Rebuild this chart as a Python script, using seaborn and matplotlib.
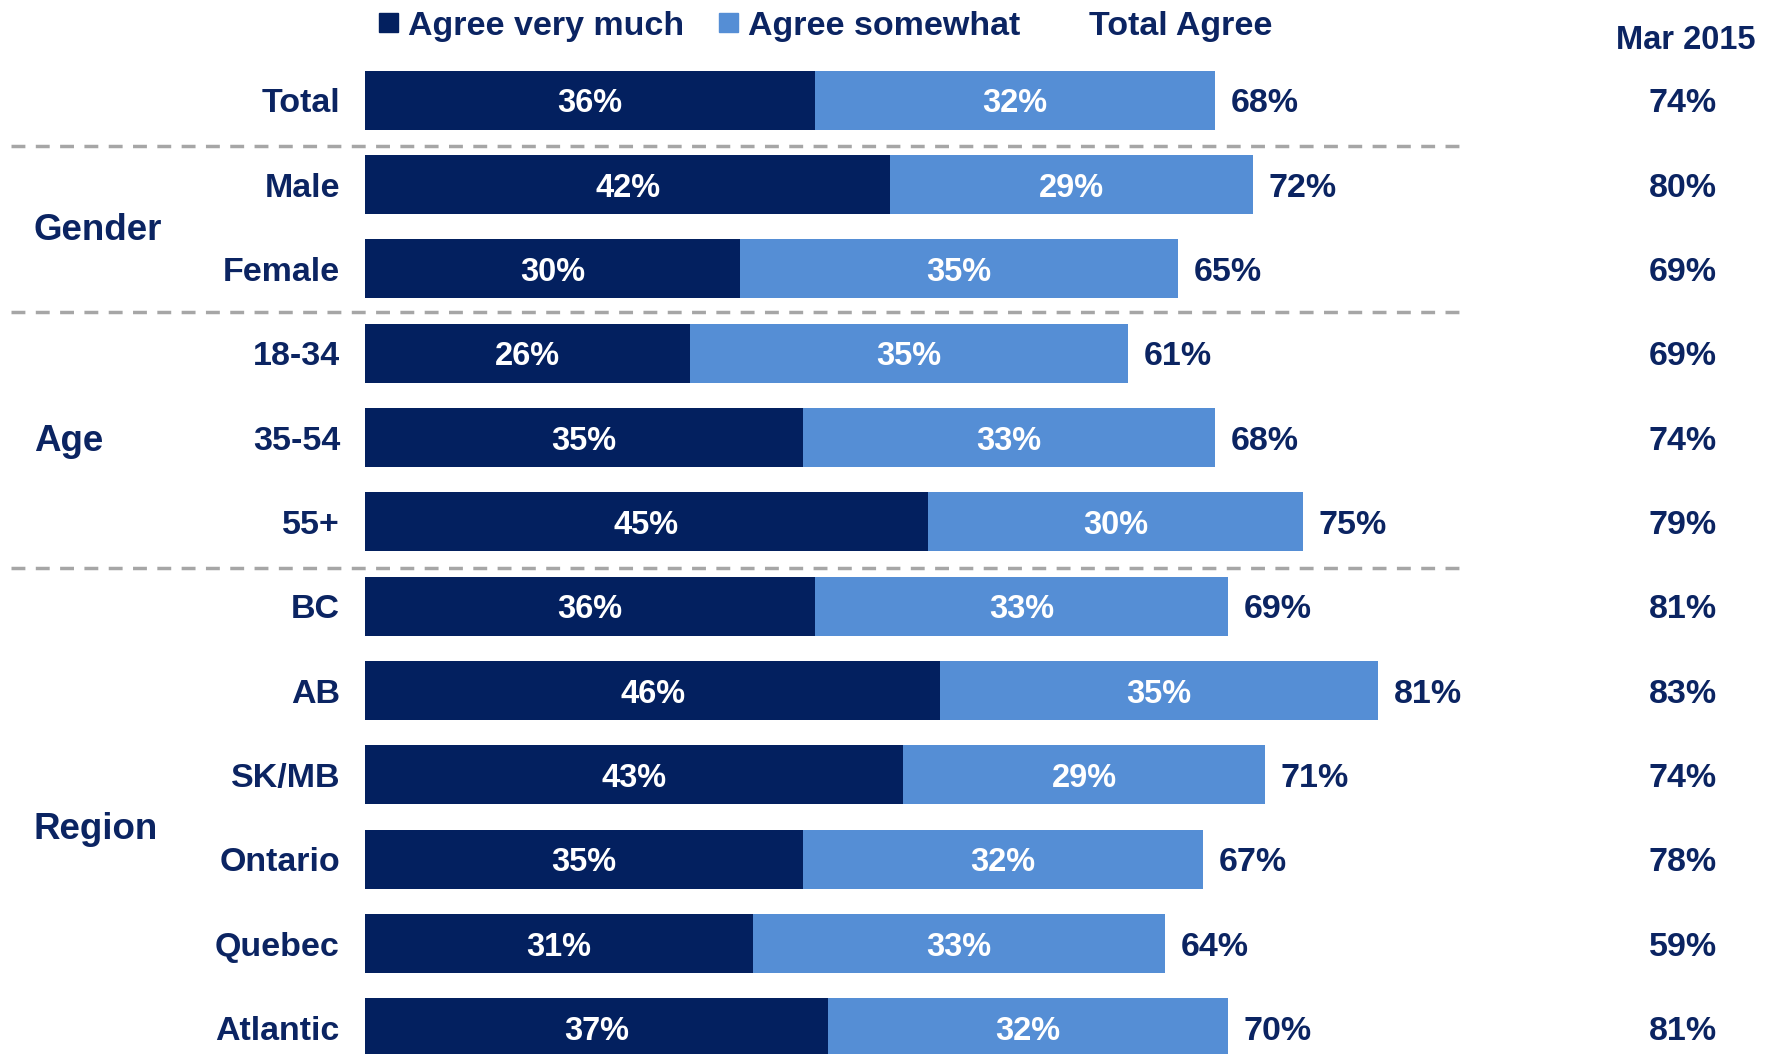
import matplotlib
matplotlib.use('Agg')
import matplotlib.pyplot as plt
import seaborn as sns
import pandas as pd
from matplotlib.patches import Rectangle

# 数据
categories = ['Total', 'Male', 'Female', '18-34', '35-54', '55+',
              'BC', 'AB', 'SK/MB', 'Ontario', 'Quebec', 'Atlantic']
agree_very = [36, 42, 30, 26, 35, 45, 36, 46, 43, 35, 31, 37]
agree_some = [32, 29, 35, 35, 33, 30, 33, 35, 29, 32, 33, 32]
total_agree = [68, 72, 65, 61, 68, 75, 69, 81, 71, 67, 64, 70]
mar_2015 = [74, 80, 69, 69, 74, 79, 81, 83, 74, 78, 59, 81]
groups = [('Gender', 1.5), ('Age', 4.0), ('Region', 8.6)]
separators = [0.54, 2.51, 5.55]

DARK = '#03205F'
LIGHT = '#558ED5'
NAVY = '#0B2462'

sns.set_theme(style='white')
plt.rcParams['font.family'] = ['Liberation Sans', 'DejaVu Sans']
plt.rcParams['font.weight'] = 'bold'
FS = 24.5
VA = 'center_baseline'

df = pd.DataFrame({'cat': categories, 'very': agree_very, 'some': agree_some})
df['stack'] = df['very'] + df['some']

fig = plt.figure(figsize=(17.73, 10.54), dpi=100)
ax = fig.add_axes([365 / 1773, 0, 1 - 365 / 1773, 1])

# 先画总长度（浅色），再叠加深色部分
sns.barplot(data=df, x='stack', y='cat', color=LIGHT, width=0.7,
            linewidth=0, saturation=1, ax=ax)
sns.barplot(data=df, x='very', y='cat', color=DARK, width=0.7,
            linewidth=0, saturation=1, ax=ax)

ax.set_xlim(0, 112.6)
ax.set_ylim(11.31, -1.19)
ax.axis('off')

for i, row in df.iterrows():
    ax.text(row['very'] / 2, i, f"{row['very']}%", ha='center', va=VA,
            color='white', fontsize=FS - 1)
    ax.text(row['very'] + row['some'] / 2, i, f"{row['some']}%", ha='center', va=VA,
            color='white', fontsize=FS - 1)
    ax.text(row['stack'] + 1.25, i, f'{total_agree[i]}%', ha='left', va=VA,
            color=NAVY, fontsize=FS)
    ax.text(-2.0, i, row['cat'], ha='right', va=VA, color=NAVY, fontsize=FS,
            clip_on=False)
    ax.text(105.4, i, f'{mar_2015[i]}%', ha='center', va=VA, color=NAVY,
            fontsize=FS)

# 分组标签
for name, y in groups:
    ax.text(-26.5, y, name, ha='left', va=VA, color=NAVY, fontsize=FS + 2,
            clip_on=False)

# 分隔虚线
for y in separators:
    ax.plot([-28.3, 87.7], [y, y], color='#A6A6A6', lw=2.5,
            linestyle=(0, (4, 3)), clip_on=False)

# Mar 2015 列标题
ax.text(105.6, -0.75, 'Mar 2015', ha='center', va=VA, color=NAVY,
        fontsize=FS - 1)

# 图例
ly = -0.92
ax.add_patch(Rectangle((1.1, ly - 0.115), 1.5, 0.23, color=DARK, clip_on=False))
ax.text(3.4, ly, 'Agree very much', ha='left', va=VA, color=NAVY, fontsize=FS)
ax.add_patch(Rectangle((28.3, ly - 0.115), 1.5, 0.23, color=LIGHT, clip_on=False))
ax.text(30.6, ly, 'Agree somewhat', ha='left', va=VA, color=NAVY, fontsize=FS)
ax.text(57.9, ly, 'Total Agree', ha='left', va=VA, color=NAVY, fontsize=FS)

fig.savefig('out.png', dpi=100, facecolor='white')
